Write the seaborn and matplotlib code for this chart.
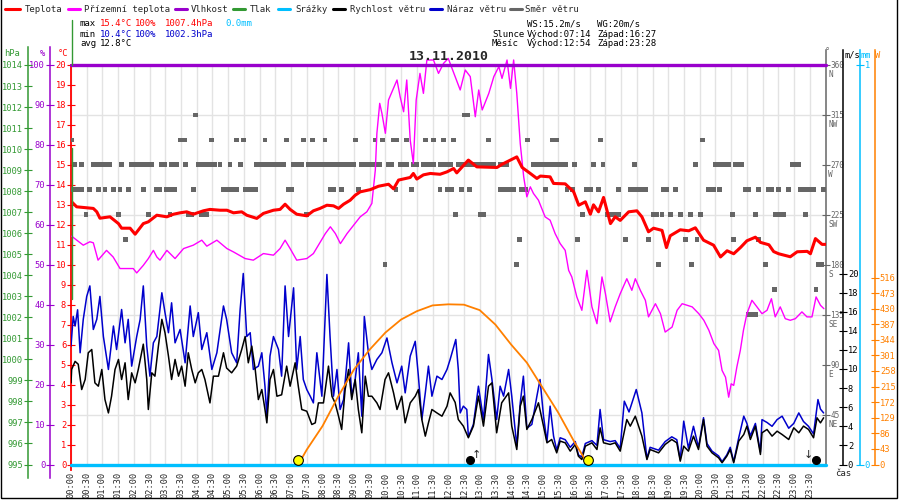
import numpy as np
import pandas as pd
import matplotlib
matplotlib.use('Agg')
import matplotlib.pyplot as plt
import matplotlib.transforms as mtransforms
from matplotlib.lines import Line2D
from matplotlib.patches import Rectangle
import seaborn as sns

sns.set_style('white')
plt.rcParams['font.family'] = ['DejaVu Sans Mono', 'DejaVu Sans']

# ---- values, time in hours since midnight ----
temperature = [
    (0.02, 13.15), (0.18, 12.9), (0.71, 12.82), (0.82, 12.65), (0.92, 12.33), (1.24, 12.4),
    (1.51, 12.06), (1.61, 11.83), (1.88, 11.83), (2.04, 11.53), (2.30, 12.06), (2.46, 12.15),
    (2.73, 12.48), (3.05, 12.4), (3.26, 12.53), (3.47, 12.6), (3.68, 12.65), (3.89, 12.53),
    (4.21, 12.7), (4.42, 12.77), (4.74, 12.73), (4.96, 12.73), (5.17, 12.6), (5.43, 12.65),
    (5.59, 12.48), (5.91, 12.32), (6.12, 12.57), (6.44, 12.73), (6.65, 12.77), (6.81, 13.03),
    (6.97, 12.77), (7.18, 12.53), (7.5, 12.45), (7.71, 12.7), (7.92, 12.82), (8.14, 12.98),
    (8.35, 12.95), (8.51, 12.82), (8.67, 13.03), (8.88, 13.23), (9.04, 13.48), (9.2, 13.65),
    (9.52, 13.76), (9.78, 13.93), (10.1, 14.03), (10.26, 13.8), (10.42, 14.24), (10.79, 14.37),
    (10.89, 14.57), (11.0, 14.29), (11.21, 14.5), (11.43, 14.57), (11.58, 14.55), (11.74, 14.53),
    (11.96, 14.65), (12.17, 14.82), (12.27, 14.6), (12.64, 15.24), (12.91, 14.9), (13.55, 14.87),
    (13.71, 15.03), (14.18, 15.4), (14.35, 14.87), (14.61, 14.57), (14.82, 14.32), (14.93, 14.44),
    (15.24, 14.4), (15.35, 14.07), (15.72, 14.05), (15.99, 13.65), (16.15, 12.98), (16.36, 13.15),
    (16.52, 12.53), (16.62, 13.0), (16.78, 12.65), (16.94, 13.37), (17.16, 12.06), (17.31, 12.4),
    (17.47, 12.22), (17.74, 12.65), (18.0, 12.7), (18.16, 12.4), (18.37, 11.65), (18.53, 11.83),
    (18.8, 11.72), (18.94, 10.86), (19.06, 11.45), (19.38, 11.75), (19.65, 11.7), (19.86, 11.85),
    (20.12, 11.23), (20.44, 10.98), (20.66, 10.39), (20.87, 10.7), (21.08, 10.55), (21.3, 10.87),
    (21.5, 11.2), (21.77, 11.38), (21.93, 11.12), (22.2, 11.0), (22.35, 10.66), (22.51, 10.55),
    (22.88, 10.4), (23.1, 10.65), (23.42, 10.67), (23.52, 10.55), (23.68, 11.31), (23.89, 11.02),
    (24.0, 11.02),
]

ground_temp = [
    (0.02, 11.43), (0.39, 10.98), (0.6, 11.15), (0.71, 11.1), (0.86, 10.23), (1.13, 10.72),
    (1.34, 10.39), (1.56, 9.81), (1.98, 9.81), (2.09, 9.59), (2.3, 9.97), (2.46, 10.31),
    (2.62, 10.72), (2.73, 10.39), (2.83, 10.23), (3.05, 10.72), (3.31, 10.31), (3.58, 10.81),
    (3.89, 10.98), (4.16, 11.23), (4.32, 10.93), (4.64, 11.23), (4.96, 10.81), (5.17, 10.64),
    (5.54, 10.31), (5.8, 10.23), (6.12, 10.56), (6.44, 10.48), (6.65, 10.81), (6.81, 11.23),
    (6.97, 10.81), (7.18, 10.23), (7.5, 10.31), (7.71, 10.56), (7.87, 10.98), (8.09, 11.56),
    (8.25, 11.9), (8.41, 11.56), (8.57, 11.06), (8.78, 11.56), (8.99, 11.98), (9.2, 12.4),
    (9.41, 12.65), (9.57, 13.07), (9.68, 14.74), (9.73, 16.58), (9.82, 18.08), (9.89, 17.58),
    (10.0, 16.58), (10.1, 18.25), (10.21, 18.66), (10.37, 19.25), (10.47, 18.41), (10.58, 17.66),
    (10.68, 19.25), (10.79, 16.24), (10.89, 15.07), (10.98, 18.25), (11.1, 19.58), (11.21, 18.58),
    (11.32, 20.25), (11.53, 20.25), (11.69, 19.58), (11.85, 20.08), (12.0, 20.33), (12.22, 19.42),
    (12.38, 18.75), (12.54, 19.75), (12.7, 19.42), (12.86, 17.41), (12.97, 18.75), (13.08, 17.75),
    (13.29, 18.58), (13.45, 19.42), (13.61, 19.92), (13.71, 19.33), (13.87, 20.25), (13.98, 18.83),
    (14.08, 20.25), (14.18, 18.58), (14.29, 16.07), (14.4, 14.4), (14.5, 13.4), (14.61, 13.9),
    (14.71, 13.57), (14.87, 13.23), (15.08, 12.4), (15.24, 12.23), (15.4, 11.56), (15.56, 11.06),
    (15.72, 10.72), (15.83, 9.72), (15.93, 9.39), (16.09, 8.39), (16.25, 7.72), (16.41, 9.72),
    (16.57, 7.89), (16.73, 7.05), (16.89, 9.39), (17.0, 8.55), (17.15, 7.14), (17.31, 7.89),
    (17.47, 8.55), (17.68, 9.3), (17.84, 8.72), (17.95, 9.3), (18.11, 8.72), (18.27, 8.22),
    (18.37, 7.39), (18.59, 8.05), (18.75, 7.55), (18.9, 6.63), (19.12, 6.88), (19.28, 7.72),
    (19.44, 8.05), (19.76, 7.89), (19.97, 7.55), (20.13, 7.22), (20.29, 6.72), (20.45, 6.05),
    (20.6, 5.71), (20.71, 4.71), (20.82, 4.37), (20.92, 3.37), (21.0, 4.04), (21.08, 3.96),
    (21.18, 4.88), (21.29, 5.71), (21.39, 6.72), (21.5, 7.55), (21.66, 8.22), (21.82, 7.89),
    (21.98, 7.55), (22.14, 7.72), (22.28, 8.3), (22.4, 7.39), (22.56, 7.89), (22.72, 7.3),
    (22.88, 7.22), (23.04, 7.3), (23.25, 7.64), (23.41, 7.39), (23.57, 7.39), (23.7, 8.39),
    (23.84, 7.97), (23.95, 7.8),
]

wind_speed = [
    (0.0, 8.55), (0.02, 9.95), (0.13, 10.8), (0.23, 10.5), (0.34, 7.85), (0.45, 8.9), (0.55, 11.7),
    (0.66, 12.04), (0.76, 8.55), (0.87, 8.2), (0.98, 9.95), (1.08, 6.8), (1.19, 5.4), (1.29, 7.15),
    (1.4, 9.95), (1.51, 11.0), (1.61, 8.9), (1.72, 10.65), (1.82, 6.8), (1.93, 9.6), (2.04, 8.55),
    (2.14, 9.95), (2.30, 12.6), (2.41, 8.9), (2.46, 5.76), (2.57, 9.6), (2.67, 9.25), (2.78, 12.4),
    (2.89, 15.2), (2.99, 13.8), (3.1, 11.35), (3.2, 8.9), (3.31, 11.0), (3.42, 9.25), (3.52, 10.3),
    (3.63, 8.2), (3.73, 11.7), (3.84, 9.95), (3.95, 8.55), (4.05, 9.6), (4.16, 9.95), (4.26, 8.9),
    (4.42, 6.45), (4.53, 9.25), (4.69, 9.25), (4.85, 11.7), (4.95, 10.1), (5.11, 9.6), (5.27, 10.3),
    (5.43, 12.04), (5.54, 13.4), (5.64, 10.65), (5.75, 12.4), (5.86, 9.95), (5.96, 6.8), (6.07, 7.85),
    (6.17, 5.76), (6.23, 4.36), (6.33, 8.9), (6.44, 9.95), (6.55, 7.15), (6.7, 7.3), (6.86, 10.3),
    (6.97, 8.2), (7.13, 10.65), (7.23, 8.2), (7.34, 5.76), (7.5, 5.58), (7.66, 4.19), (7.77, 4.36),
    (7.87, 6.45), (8.03, 6.45), (8.19, 10.3), (8.3, 7.15), (8.4, 6.45), (8.51, 5.06), (8.61, 3.67),
    (8.72, 7.85), (8.83, 9.95), (8.93, 6.8), (9.04, 8.9), (9.14, 5.76), (9.25, 3.32), (9.36, 9.25),
    (9.46, 7.15), (9.57, 7.15), (9.73, 6.45), (9.83, 5.76), (9.99, 8.9), (10.1, 9.6), (10.26, 7.5),
    (10.37, 5.76), (10.52, 7.15), (10.63, 4.36), (10.79, 6.45), (10.95, 7.15), (11.05, 7.85),
    (11.16, 4.71), (11.27, 2.97), (11.37, 4.36), (11.48, 5.76), (11.64, 5.4), (11.8, 5.06),
    (11.96, 6.1), (12.06, 7.5), (12.22, 6.5), (12.32, 4.71), (12.48, 4.02), (12.64, 2.8),
    (12.8, 4.02), (12.96, 7.16), (13.12, 4.02), (13.28, 8.2), (13.39, 8.55), (13.54, 3.32),
    (13.7, 6.46), (13.92, 7.5), (14.02, 4.02), (14.18, 1.57), (14.29, 6.11), (14.39, 7.16),
    (14.5, 3.67), (14.66, 4.71), (14.87, 6.46), (15.03, 4.02), (15.14, 2.27), (15.29, 2.62),
    (15.45, 1.22), (15.56, 2.45), (15.72, 2.27), (15.88, 1.4), (16.04, 2.1), (16.14, 0.87),
    (16.25, 0.52), (16.36, 1.92), (16.57, 2.27), (16.73, 1.57), (16.83, 3.84), (16.94, 2.27),
    (17.15, 2.1), (17.31, 2.27), (17.47, 1.4), (17.68, 4.71), (17.79, 4.02), (17.95, 5.06),
    (18.16, 2.97), (18.32, 0.52), (18.42, 1.57), (18.69, 1.22), (18.9, 2.1), (19.11, 2.62),
    (19.27, 2.27), (19.38, 0.35), (19.49, 1.92), (19.64, 1.4), (19.8, 2.97), (19.96, 1.57),
    (20.12, 4.71), (20.23, 1.92), (20.39, 1.22), (20.6, 0.7), (20.71, 0.18), (20.86, 0.87),
    (20.97, 1.57), (21.08, 0.18), (21.24, 2.45), (21.4, 3.14), (21.5, 4.02), (21.61, 2.62),
    (21.77, 4.02), (21.93, 1.05), (21.98, 3.32), (22.14, 3.67), (22.3, 2.97), (22.46, 3.49),
    (22.62, 3.14), (22.83, 2.62), (22.99, 3.84), (23.15, 3.32), (23.3, 4.02), (23.46, 3.67),
    (23.62, 2.8), (23.73, 4.89), (23.84, 4.36), (23.94, 4.89),
]

wind_gust = [
    (0.0, 12.4), (0.07, 15.5), (0.13, 14.5), (0.21, 16.2), (0.29, 11.7), (0.39, 15.2), (0.5, 17.6),
    (0.6, 18.7), (0.71, 14.14), (0.82, 15.2), (0.92, 17.6), (1.03, 13.4), (1.19, 9.95), (1.35, 14.5),
    (1.45, 12.04), (1.61, 16.23), (1.72, 12.74), (1.82, 15.2), (1.93, 10.3), (2.09, 13.4),
    (2.2, 15.2), (2.3, 18.7), (2.41, 12.4), (2.51, 9.25), (2.62, 12.74), (2.73, 13.4), (2.89, 17.98),
    (2.99, 15.9), (3.1, 13.8), (3.2, 16.93), (3.31, 12.74), (3.47, 14.14), (3.63, 10.65),
    (3.79, 16.6), (3.89, 13.4), (4.05, 15.9), (4.16, 12.04), (4.32, 13.8), (4.48, 9.95),
    (4.64, 11.7), (4.85, 16.6), (4.95, 15.2), (5.11, 11.7), (5.27, 10.65), (5.38, 16.23),
    (5.48, 20.0), (5.59, 13.4), (5.7, 13.8), (5.8, 9.95), (5.96, 10.3), (6.07, 11.7), (6.17, 8.2),
    (6.23, 5.06), (6.33, 11.35), (6.44, 13.4), (6.6, 12.04), (6.7, 9.25), (6.81, 18.7), (6.92, 13.4),
    (7.08, 18.5), (7.18, 9.95), (7.29, 13.4), (7.39, 8.9), (7.5, 7.85), (7.61, 7.15), (7.71, 6.45),
    (7.82, 11.7), (7.98, 7.15), (8.14, 19.9), (8.24, 13.4), (8.35, 7.15), (8.46, 9.95), (8.56, 5.76),
    (8.67, 6.8), (8.83, 12.74), (8.93, 7.15), (9.04, 8.9), (9.14, 11.7), (9.25, 5.06), (9.33, 15.5),
    (9.46, 11.7), (9.57, 9.95), (9.73, 11.0), (9.89, 11.7), (10.05, 13.25), (10.21, 10.65),
    (10.37, 8.55), (10.52, 10.3), (10.63, 7.5), (10.79, 11.35), (10.95, 12.9), (11.05, 9.25),
    (11.16, 4.71), (11.27, 7.5), (11.37, 10.3), (11.48, 7.15), (11.64, 9.25), (11.8, 8.9),
    (11.96, 9.95), (12.06, 11.0), (12.24, 13.09), (12.32, 9.95), (12.38, 5.4), (12.48, 6.11),
    (12.59, 5.76), (12.64, 2.9), (12.8, 4.2), (12.96, 8.2), (13.12, 4.71), (13.28, 11.52),
    (13.39, 8.9), (13.54, 4.71), (13.65, 8.2), (13.76, 7.16), (13.92, 9.95), (14.02, 7.16),
    (14.18, 1.92), (14.29, 6.46), (14.39, 9.25), (14.5, 3.8), (14.66, 4.2), (14.82, 7.16),
    (14.92, 8.9), (15.03, 5.06), (15.14, 2.4), (15.24, 6.11), (15.35, 2.97), (15.45, 1.5),
    (15.56, 2.8), (15.72, 2.6), (15.88, 1.8), (16.04, 2.4), (16.14, 1.0), (16.25, 0.8), (16.36, 2.2),
    (16.57, 2.5), (16.73, 2.0), (16.83, 5.76), (16.94, 2.6), (17.15, 2.4), (17.31, 2.5), (17.47, 1.7),
    (17.6, 6.63), (17.75, 5.5), (17.98, 7.85), (18.16, 5.4), (18.32, 0.6), (18.42, 1.8), (18.69, 1.5),
    (18.9, 2.4), (19.11, 2.9), (19.27, 2.6), (19.38, 0.5), (19.49, 4.54), (19.64, 1.7), (19.8, 4.0),
    (19.96, 1.8), (20.12, 4.9), (20.23, 2.2), (20.39, 1.4), (20.6, 0.9), (20.71, 0.3), (20.86, 1.0),
    (20.97, 1.8), (21.08, 0.3), (21.24, 2.8), (21.4, 5.06), (21.5, 4.3), (21.61, 3.0), (21.77, 4.3),
    (21.93, 1.3), (21.98, 4.7), (22.14, 4.4), (22.3, 4.0), (22.46, 4.7), (22.62, 5.06), (22.83, 3.8),
    (22.99, 4.3), (23.15, 5.4), (23.3, 4.5), (23.46, 4.0), (23.62, 3.2), (23.76, 6.8), (23.84, 5.8),
    (23.94, 5.4),
]

solar = [
    (7.23, 0), (7.5, 41), (8.0, 106), (8.5, 188), (9.0, 262), (9.5, 317), (10.0, 364), (10.5, 400),
    (11.0, 423), (11.5, 439), (12.0, 442), (12.5, 441), (13.0, 426), (13.5, 386), (14.0, 331),
    (14.5, 281), (15.0, 212), (15.5, 143), (16.0, 64), (16.45, 0),
]

humidity = [(0.0, 100), (24.0, 100)]
rain = [(0.0, 0.0), (24.0, 0.0)]

# wind direction samples, grouped by compass direction (degrees)
dir_315 = [3.97, 12.5, 12.6]
dir_292 = [0.02, 3.47, 3.6, 4.48, 5.27, 5.48, 6.17, 6.86, 7.39, 7.68, 8.08, 9.06, 9.67, 9.91,
           10.26, 10.37, 10.68, 11.27, 11.53, 11.85, 12.17, 13.28, 14.52, 15.3, 15.44, 16.84, 20.1]
dir_270 = [0.13, 0.34, 0.71, 0.81, 0.92, 1.03, 1.13, 1.24, 1.61, 1.93, 2.04, 2.14, 2.3, 2.41,
           2.57, 2.89, 2.99, 3.2, 3.36, 3.63, 4.05, 4.16, 4.26, 4.37, 4.48, 4.58, 4.74, 5.06, 5.38,
           5.91, 6.01, 6.12, 6.22, 6.33, 6.44, 6.54, 6.65, 6.76, 7.08, 7.18, 7.34, 7.55, 7.66, 7.77,
           7.87, 7.98, 8.14, 8.24, 8.35, 8.45, 8.56, 8.67, 8.77, 8.88, 8.98, 9.25, 9.36, 9.46, 9.57,
           9.73, 9.83, 10.1, 10.21, 10.47, 10.58, 10.68, 10.89, 11.0, 11.21, 11.31, 11.42, 11.53,
           11.74, 11.85, 11.95, 12.06, 12.33, 12.43, 12.54, 12.7, 12.8, 12.91, 13.02, 13.12, 13.23,
           13.34, 13.44, 13.65, 13.76, 13.87, 14.71, 14.82, 14.93, 15.03, 15.19, 15.35, 15.51,
           15.62, 15.72, 16.01, 16.62, 16.92, 17.93, 19.86, 20.5, 20.6, 20.71, 20.81, 20.92, 21.13,
           21.24, 21.34, 22.94, 23.04, 23.15]
dir_247 = [0.02, 0.18, 0.34, 0.6, 0.87, 1.08, 1.35, 1.56, 1.82, 2.3, 2.73, 2.83, 3.04, 3.2, 3.31,
           3.89, 4.85, 5.01, 5.17, 5.27, 5.54, 5.7, 5.86, 6.92, 7.02, 8.24, 8.35, 8.61, 9.14, 10.34,
           10.84, 11.74, 11.96, 12.11, 12.41, 12.67, 13.65, 13.81, 13.97, 14.08, 14.34, 14.45, 15.09,
           15.78, 15.94, 16.41, 16.52, 16.78, 17.42, 17.79, 17.95, 18.11, 18.27, 18.85, 18.96, 19.22,
           20.28, 20.44, 20.63, 21.45, 21.56, 21.88, 22.19, 22.3, 22.51, 22.83, 23.2, 23.36, 23.47,
           23.63, 23.94]
dir_225 = [0.48, 1.51, 2.46, 3.15, 3.73, 3.84, 4.16, 4.32, 7.5, 12.22, 13.02, 13.12, 16.27, 17.05,
           17.15, 17.26, 17.42, 18.53, 18.64, 18.8, 19.06, 19.38, 19.7, 20.02, 21.03, 21.77, 22.41,
           22.51, 22.67, 23.36]
dir_202 = [1.74, 14.26, 16.11, 17.63, 18.37, 19.54, 19.91, 21.08, 21.88]
dir_180 = [9.99, 14.18, 18.69, 19.75, 22.09, 23.78, 23.89]
dir_157 = [22.38, 23.7]
dir_135 = [21.55, 21.66, 21.77]

sun_rise, sun_set = '07:14', '16:27'
moon_rise, moon_set = '12:54', '23:28'

legend_labels = ['Teplota', 'Přízemní teplota', 'Vlhkost', 'Tlak', 'Srážky',
                 'Rychlost větru', 'Náraz větru', 'Směr větru']
compass = ['NE', 'E', 'SE', 'S', 'SW', 'W', 'NW', 'N']
time_labels = ['%02d:%02d' % (m // 60, m % 60) for m in range(0, 24 * 60, 30)]

RED, MAG, PUR, GRN = '#ff0000', '#ff00ff', '#9900cc', '#339933'
CYAN, BLK, BLUE, GRAY, ORANGE = '#00bfff', '#000000', '#0000cc', '#666666', '#ff8000'
legend_colors = [RED, MAG, PUR, GRN, CYAN, BLK, BLUE, GRAY]


def hours(s):
    h, m = s.split(':')
    return int(h) + int(m) / 60


def frame(pairs, name):
    return pd.DataFrame(pairs, columns=['hour', name])


# ---- layout in pixels ----
W, H = 900, 500
X0, X1, Y0, Y1 = 71, 825.5, 464.5, 65


def fx(px):
    return px / W


def fy(py):
    return 1 - py / H


def ax_pos(px):
    return (px - X0) / (X1 - X0)


fig = plt.figure(figsize=(9, 5), dpi=100)
ax = fig.add_axes([fx(X0), fy(Y0), fx(X1) - fx(X0), fy(Y1) - fy(Y0)])
ax.set_ylim(0, 20)
ax.set_yticks(range(0, 21))
ax.set_yticks(np.arange(0, 20.01, 2.5), minor=True)
ax.set_xticks(np.arange(0, 24, 0.5))
ax.set_xticklabels(time_labels, rotation=90)
ax.grid(axis='x', which='major', color='#e3e3e3', lw=1)
ax.grid(axis='y', which='minor', color='#e3e3e3', lw=1)
ax.tick_params(axis='y', which='minor', length=0)
ax.tick_params(axis='y', which='major', direction='inout', length=6, width=0.8,
               colors=RED, labelsize=6.3, pad=0.5)
ax.tick_params(axis='x', direction='out', length=3, width=0.8, labelsize=6.2, pad=2)
for s in ['top', 'right']:
    ax.spines[s].set_visible(False)
ax.spines['left'].set_color(RED)
ax.spines['left'].set_linewidth(1.3)
ax.spines['left'].set_bounds(-0.3, 20)
ax.spines['bottom'].set_linewidth(0.8)


def twin(ylim, side=None, pos=None, color=None, ticks=(), top_px=0, bottom_px=0, size=6.3):
    t = ax.twinx()
    t.set_ylim(*ylim)
    for s in t.spines.values():
        s.set_visible(False)
    if side is None:
        t.set_yticks([])
        return t
    per_px = (ylim[1] - ylim[0]) / (Y0 - Y1)
    sp = t.spines[side]
    sp.set_visible(True)
    sp.set_position(('axes', pos))
    sp.set_color(color)
    sp.set_linewidth(1.1)
    sp.set_bounds(ylim[0] - bottom_px * per_px, ylim[1] + top_px * per_px)
    if side == 'left':
        t.yaxis.tick_left()
    else:
        t.yaxis.tick_right()
    t.set_yticks(ticks)
    t.tick_params(axis='y', direction='inout', length=6, width=0.8, colors=color,
                  labelsize=size, pad=0.5)
    return t


ax_dir = twin((0, 360), 'right', 1.0, GRAY, range(45, 361, 45), top_px=15, size=5.6)
ax_t = twin((0, 20))
ax_h = twin((0, 100), 'left', ax_pos(50), PUR, range(0, 101, 10), top_px=18, bottom_px=13)
ax_p = twin((995, 1014), 'left', ax_pos(28), GRN, range(995, 1015), top_px=18, bottom_px=13)
ax_ws = twin((0, 20 * (Y0 - Y1) / 191), 'right', ax_pos(843), BLK, range(0, 21, 2), top_px=15)
ax_w = twin((0, 516 * (Y0 - Y1) / 187), 'right', ax_pos(875), ORANGE, range(0, 517, 43), top_px=15)
ax_mm = twin((0, 1), 'right', ax_pos(860), CYAN, [0, 1], top_px=15)

# wind direction squares
dir_groups = [(315, dir_315), (292.5, dir_292), (270, dir_270), (247.5, dir_247), (225, dir_225),
              (202.5, dir_202), (180, dir_180), (157.5, dir_157), (135, dir_135)]
directions = pd.DataFrame([(h, d) for d, hs in dir_groups for h in hs], columns=['hour', 'deg'])
sns.scatterplot(data=directions, x='hour', y='deg', ax=ax_dir, marker='s', s=12,
                color=GRAY, edgecolor='none', linewidth=0, zorder=3)
ax_dir.set_yticklabels([str(v) for v in range(45, 361, 45)])
lab_tr = mtransforms.blended_transform_factory(ax_dir.transAxes, ax_dir.transData) + \
    mtransforms.ScaledTranslation(3 / 100, -9.5 / 100, fig.dpi_scale_trans)
for deg, letter in zip(range(45, 361, 45), compass):
    ax_dir.text(1.0, deg, letter, transform=lab_tr, color=GRAY, fontsize=5.6,
                ha='left', va='center')

# temperatures
gt = frame(ground_temp, 'temp')
sns.lineplot(data=gt, x='hour', y='temp', ax=ax_t, color=MAG, lw=1, errorbar=None)
ax_t.lines[-1].set_clip_on(False)
tt = frame(temperature, 'temp')
sns.lineplot(data=tt, x='hour', y='temp', ax=ax_t, color=RED, lw=2.2, errorbar=None)

# humidity
hh = frame(humidity, 'rh')
sns.lineplot(data=hh, x='hour', y='rh', ax=ax_h, color=PUR, lw=2.4, errorbar=None)
ax_h.lines[-1].set_clip_on(False)

# wind
wg = frame(wind_gust, 'ms')
sns.lineplot(data=wg, x='hour', y='ms', ax=ax_ws, color=BLUE, lw=1.1, errorbar=None)
ws = frame(wind_speed, 'ms')
sns.lineplot(data=ws, x='hour', y='ms', ax=ax_ws, color=BLK, lw=1.1, errorbar=None)

# solar radiation
sr = frame(solar, 'w')
sns.lineplot(data=sr, x='hour', y='w', ax=ax_w, color=ORANGE, lw=1.3, errorbar=None)

# rain
rr = frame(rain, 'mm')
sns.lineplot(data=rr, x='hour', y='mm', ax=ax_mm, color=CYAN, lw=2.4, errorbar=None)
ax_mm.lines[-1].set_clip_on(False)

# sun and moon markers
up = mtransforms.ScaledTranslation(0, 4.5 / 100, fig.dpi_scale_trans)
for t in [sun_rise, sun_set]:
    ax_mm.plot([hours(t)], [0], 'o', ms=7, mfc='#ffff00', mec='black', mew=0.8,
               transform=ax_mm.transData + up, clip_on=False, zorder=5)
moon_dot_l = mtransforms.ScaledTranslation(-6.5 / 100, 4.5 / 100, fig.dpi_scale_trans)
moon_dot_r = mtransforms.ScaledTranslation(7.5 / 100, 4.5 / 100, fig.dpi_scale_trans)
ax_mm.plot([hours(moon_rise)], [0], 'o', ms=5.5, color='black',
           transform=ax_mm.transData + moon_dot_l, clip_on=False, zorder=5)
ax_mm.plot([hours(moon_set)], [0], 'o', ms=5.5, color='black',
           transform=ax_mm.transData + moon_dot_r, clip_on=False, zorder=5)
ax_mm.text(hours(moon_rise), 0, '↑', ha='center', va='bottom', fontsize=8,
           family='DejaVu Sans', transform=ax_mm.transData + up)
ax_mm.text(hours(moon_set), 0, '↓', ha='center', va='bottom', fontsize=8,
           family='DejaVu Sans', transform=ax_mm.transData + up)

for a in [ax, ax_dir, ax_t, ax_h, ax_p, ax_ws, ax_w, ax_mm]:
    a.set_xlabel('')
    a.set_ylabel('')
ax.set_xlim(0, 24)
ax.set_ylim(0, 20)

# ---- texts around the plot ----
leg_x = [(5, 20, 25), (68, 80, 84), (175, 187, 191), (233, 245, 250), (278, 290, 295),
         (333, 345, 350), (430, 442, 447), (510, 522, 525)]
for (a, b, tx), lab, col in zip(leg_x, legend_labels, legend_colors):
    fig.add_artist(Line2D([fx(a), fx(b)], [fy(9), fy(9)], color=col, lw=2.2,
                          transform=fig.transFigure))
    fig.text(fx(tx), fy(9), lab, va='center', ha='left', fontsize=6.5)

stats = [
    (80, 24, 'max', BLK), (100, 24, '15.4°C', RED), (135, 24, '100%', RED),
    (165, 24, '1007.4hPa', RED), (225, 24, '0.0mm', CYAN),
    (80, 34, 'min', BLK), (100, 34, '10.4°C', BLUE), (135, 34, '100%', BLUE),
    (165, 34, '1002.3hPa', BLUE),
    (80, 44, 'avg', BLK), (100, 44, '12.8°C', BLK),
    (527, 24, 'WS:15.2m/s', BLK), (597, 24, 'WG:20m/s', BLK),
    (492, 34, 'Slunce', BLK), (527, 34, 'Východ:' + sun_rise, BLK), (597, 34, 'Západ:' + sun_set, BLK),
    (492, 44, 'Měsíc', BLK), (527, 44, 'Východ:' + moon_rise, BLK), (597, 44, 'Západ:' + moon_set, BLK),
]
for x, y, s, c in stats:
    fig.text(fx(x), fy(y), s, color=c, fontsize=6.5, ha='left', va='center')

fig.text(fx(449), fy(57), '13.11.2010', ha='center', va='center', fontsize=9.5,
         fontweight='bold')

units = [(12, 53, 'hPa', GRN), (42, 53, '%', PUR), (63, 53, '°C', RED),
         (827, 52, '°', GRAY), (852, 55, 'm/s', BLK), (866, 55, 'mm', CYAN), (878, 55, 'W', ORANGE)]
for x, y, s, c in units:
    fig.text(fx(x), fy(y), s, color=c, fontsize=6.3, ha='center', va='center')
fig.text(fx(835), fy(473), 'čas', fontsize=6.5, ha='left', va='center')

# left edge separator lines and frame
fig.add_artist(Line2D([fx(71.5), fx(71.5)], [fy(20), fy(65)], color=GRN, lw=1,
                      transform=fig.transFigure))
fig.add_artist(Line2D([fx(71.5), fx(71.5)], [fy(148), fy(299)], color=GRN, lw=1,
                      transform=fig.transFigure))
fig.add_artist(Rectangle((fx(0.5), fy(497.5)), fx(897) - fx(0.5), 1, fill=False,
                         edgecolor='black', lw=1, transform=fig.transFigure))

fig.savefig('out.png', dpi=100)
